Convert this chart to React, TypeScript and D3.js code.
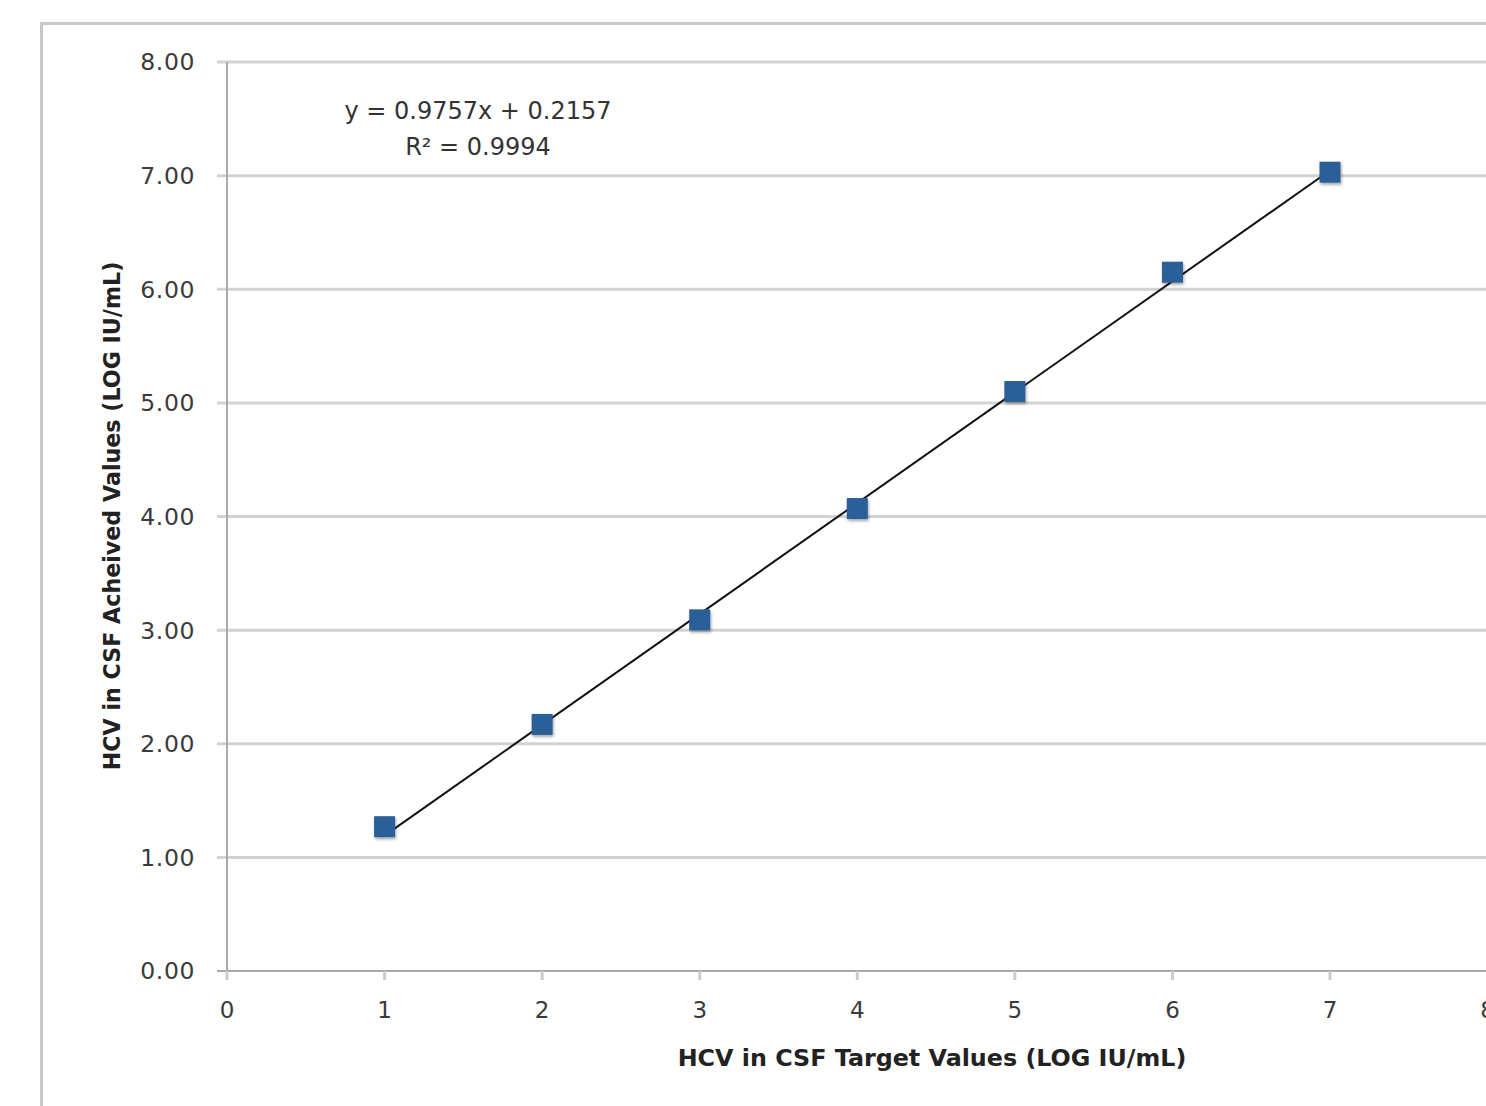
import React from "react";
import * as d3 from "d3";

const targetValues = [1, 2, 3, 4, 5, 6, 7];
const achievedValues = [1.27, 2.17, 3.09, 4.07, 5.1, 6.15, 7.03];
const slope = 0.9757;
const intercept = 0.2157;
const equationText = "y = 0.9757x + 0.2157";
const r2Text = "R² = 0.9994";
const xTicks = [0, 1, 2, 3, 4, 5, 6, 7, 8];
const yTicks = [0, 1, 2, 3, 4, 5, 6, 7, 8];
const xTitle = "HCV in CSF Target Values (LOG IU/mL)";
const yTitle = "HCV in CSF Acheived Values (LOG IU/mL)";

const W = 1486;
const H = 1106;
const FONT = "'DejaVu Sans', Verdana, sans-serif";

export default function App() {
  const x = d3.scaleLinear().domain([0, 8]).range([227, 1487.6]);
  const y = d3.scaleLinear().domain([0, 8]).range([971, 62]);
  const trend = d3
    .line<number>()
    .x((d) => x(d))
    .y((d) => y(slope * d + intercept));
  const sz = 21;
  return (
    <svg
      width={W}
      height={H}
      style={{ position: "absolute", left: 0, top: 0, background: "#fff" }}
      fontFamily={FONT}
    >
      <defs>
        <filter id="sh" x="-50%" y="-50%" width="200%" height="200%">
          <feGaussianBlur in="SourceAlpha" stdDeviation="1.5" />
          <feOffset dx="1" dy="2" result="b" />
          <feComponentTransfer>
            <feFuncA type="linear" slope="0.35" />
          </feComponentTransfer>
          <feMerge>
            <feMergeNode />
            <feMergeNode in="SourceGraphic" />
          </feMerge>
        </filter>
      </defs>
      {/* outer chart border */}
      <path d={`M41.5,${H + 5} V23.5 H${W + 5}`} fill="none" stroke="#c8c8c8" strokeWidth={3} />
      {/* gridlines */}
      {yTicks.map((t) => (
        <g key={"g" + t}>
          {t > 0 && (
            <line x1={217} x2={W + 5} y1={y(t)} y2={y(t)} stroke="#d2d2d2" strokeWidth={3} />
          )}
          <text
            x={195}
            y={y(t)}
            dy="0.36em"
            textAnchor="end"
            fontSize={23.5}
            letterSpacing={0.6}
            fill="#3a3a3a"
          >
            {t.toFixed(2)}
          </text>
        </g>
      ))}
      {/* y axis */}
      <line x1={227} x2={227} y1={y(8)} y2={y(0)} stroke="#aaaaaa" strokeWidth={2} />
      {/* x axis */}
      <line x1={217} x2={W + 5} y1={y(0)} y2={y(0)} stroke="#a8a8a8" strokeWidth={2} />
      {xTicks.map((t) => (
        <g key={"x" + t}>
          <line x1={x(t)} x2={x(t)} y1={y(0)} y2={y(0) + 9} stroke="#cccccc" strokeWidth={3} />
          <text
            x={x(t)}
            y={1010}
            dy="0.36em"
            textAnchor="middle"
            fontSize={23}
            fill="#3a3a3a"
          >
            {t}
          </text>
        </g>
      ))}
      {/* trendline */}
      <path
        d={trend([targetValues[0], targetValues[targetValues.length - 1]]) || ""}
        fill="none"
        stroke="#111"
        strokeWidth={2}
      />
      {/* markers */}
      {targetValues.map((v, i) => (
        <rect
          key={"m" + i}
          x={x(v) - sz / 2}
          y={y(achievedValues[i]) - sz / 2}
          width={sz}
          height={sz}
          fill="#2b5f97"
          filter="url(#sh)"
        />
      ))}
      {/* equation */}
      <text x={478} y={110} dy="0.36em" textAnchor="middle" fontSize={24} fill="#333">
        {equationText}
      </text>
      <text x={478} y={146} dy="0.36em" textAnchor="middle" fontSize={24} fill="#333">
        {r2Text}
      </text>
      {/* axis titles */}
      <text
        x={932}
        y={1057}
        dy="0.36em"
        textAnchor="middle"
        fontSize={23.8}
        fontWeight="bold"
        fill="#222"
      >
        {xTitle}
      </text>
      <text
        transform={`translate(112,516) rotate(-90)`}
        dy="0.36em"
        textAnchor="middle"
        fontSize={22.2}
        fontWeight="bold"
        fill="#222"
      >
        {yTitle}
      </text>
    </svg>
  );
}
